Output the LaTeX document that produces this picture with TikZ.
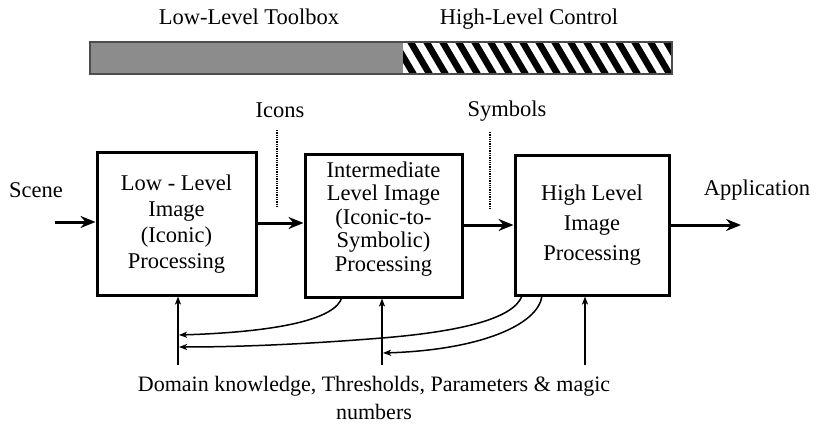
\documentclass[tikz,border=0pt]{standalone}
\usepackage{fontspec}
\setmainfont{Liberation Serif}
\usetikzlibrary{arrows.meta}
\begin{document}
\begin{tikzpicture}[x=1pt,y=-1pt,
  txt/.style={font=\fontsize{22.5}{26}\selectfont, inner sep=0pt},
  procbox/.style={draw, line width=3pt, align=center, inner sep=0pt},
  mainarrow/.style={line width=3pt, -{Stealth[length=15pt,width=12pt,inset=5pt]}},
  fbarrow/.style={line width=1.5pt, -{Stealth[length=8pt,width=6pt,inset=2pt]}},
  dotline/.style={line width=2.6pt, dash pattern=on 1.3pt off 1pt}]
\useasboundingbox (0,0) rectangle (817,425);

% top bar
\fill[black!45] (90,42) rectangle (403,74);
\begin{scope}
  \clip (403,42) rectangle (672,74);
  \foreach \i in {0,...,18}
    \draw[line width=6.5pt] ({391+16*\i},36) -- ({391+16*\i+26},80);
\end{scope}
\draw[black!70, line width=1.5pt] (90,42) rectangle (672,74);
\node[txt, anchor=base] (tlow) at (249,25) {Low-Level Toolbox};
\node[txt, anchor=base] (thigh) at (529,25) {High-Level Control};

% boxes
\node[procbox, minimum width=159pt, minimum height=142pt,
      font=\fontsize{22.5}{26}\selectfont] (b1) at (176.5,224)
  {Low - Level\\Image\\(Iconic)\\Processing};
\node[procbox, minimum width=157pt, minimum height=142pt, text depth=19pt,
      font=\fontsize{22.5}{23.5}\selectfont] (b2) at (383.5,226)
  {Intermediate\\Level Image\\(Iconic-to-\\Symbolic)\\Processing};
\node[procbox, minimum width=154pt, minimum height=139pt,
      font=\fontsize{22.5}{30}\selectfont] (b3) at (592,225.5)
  {High Level\\Image\\Processing};

% labels
\node[txt, anchor=base] (scene) at (36,197) {Scene};
\node[txt, anchor=base] (app) at (757,196) {Application};
\node[txt, anchor=base] (icons) at (280,118) {Icons};
\node[txt, anchor=base] (symb) at (507,117) {Symbols};

% main flow
\coordinate (sin) at (55,222);
\coordinate (aout) at (741,225);
\draw[mainarrow] (sin) -- (b1.west |- sin);
\draw[mainarrow] (b1.east |- 0,223) -- (b2.west |- 0,223);
\draw[mainarrow] (b2.east |- 0,225) -- (b3.west |- 0,225);
\draw[mainarrow] (b3.east |- aout) -- (aout);

% dotted markers
\coordinate (i1) at (277,130); \coordinate (i2) at (277,208);
\coordinate (s1) at (490,132); \coordinate (s2) at (490,210);
\draw[dotline] (i1) -- (i2);
\draw[dotline] (s1) -- (s2);

% knowledge inputs
\coordinate (k1) at (178,365);
\coordinate (k2) at (382,365);
\coordinate (k3) at (585,365);
\draw[fbarrow] (k1) -- (k1 |- b1.south);
\draw[fbarrow] (k2) -- (k2 |- b2.south);
\draw[fbarrow] (k3) -- (k3 |- b3.south);

% feedback curves
\coordinate (f1) at (342,297);
\coordinate (f2) at (522,296);
\coordinate (f3) at (542,296);
\draw[fbarrow] (f1) .. controls (336,320) and (275,332) .. (179,335);
\draw[fbarrow] (f2) .. controls (513,320) and (455,332) .. (382,338)
  .. controls (320,343) and (250,347) .. (179,347);
\draw[fbarrow] (f3) .. controls (538,325) and (480,350) .. (383,353);

% bottom text
\node[txt, align=center, font=\fontsize{22}{28}\selectfont] (dk) at (374,398)
  {Domain knowledge, Thresholds, Parameters \& magic\\numbers};
\end{tikzpicture}
\end{document}
